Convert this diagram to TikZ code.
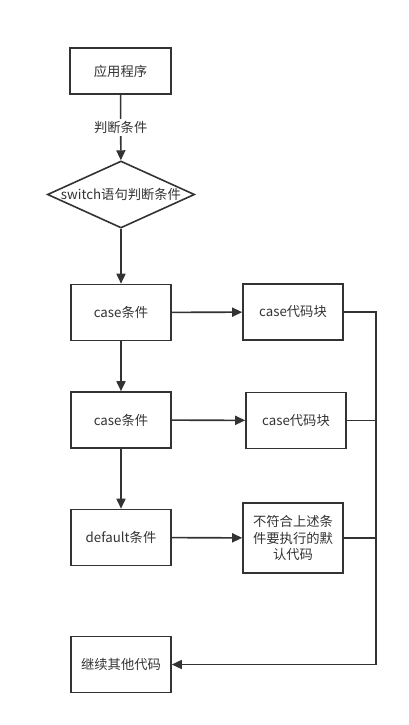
\documentclass[tikz,border=0pt]{standalone}
\usepackage{fontspec}
\setmainfont{Noto Sans CJK SC}
\usetikzlibrary{arrows.meta,shapes.geometric}
\definecolor{ink}{HTML}{333333}
\begin{document}
\begin{tikzpicture}[x=1pt,y=-1pt,
  every node/.style={font=\fontsize{13.3}{16.5}\selectfont, text=ink},
  box/.style={draw=ink, line width=1.6pt, minimum width=100pt, minimum height=56pt, inner sep=2pt, align=center},
  dia/.style={draw=ink, line width=1.6pt, diamond, aspect=2.2, inner sep=0pt, minimum width=146pt, minimum height=67pt},
  conn/.style={draw=ink, line width=1.6pt, -{Triangle[length=10pt,width=9pt]}},
  plain/.style={draw=ink, line width=1.6pt}]
\useasboundingbox (0,0) rectangle (408,725);
\node[box, minimum height=46pt, minimum width=101pt] (app) at (120.5,71) {应用程序};
\node[dia] (sw) at (121,194.5) {switch语句判断条件};
\node[box] (c1) at (121,312.5) {case条件};
\node[box] (b1) at (293,312) {case代码块};
\node[box] (c2) at (121,420) {case条件};
\node[box] (b2) at (296,420.5) {case代码块};
\node[box] (d) at (121,537.5) {default条件};
\node[box, minimum height=70pt] (db) at (293,538) {不符合上述条\\件要执行的默\\认代码};
\node[box] (cont) at (121,664.5) {继续其他代码};
\coordinate (r1) at (376,312);
\coordinate (rb) at (376,664.5);
\draw[conn] (app) -- node[fill=white, inner sep=2pt] {判断条件} (sw);
\draw[conn] (sw) -- (c1);
\draw[conn] (c1) -- (c2);
\draw[conn] (c2) -- (d);
\draw[conn] (c1) -- (b1);
\draw[conn] (c2) -- (b2);
\draw[conn] (d) -- (db);
\draw[plain] (b1.east) -- (r1) -- (rb);
\draw[plain] (b2.east) -- (b2.east -| r1);
\draw[plain] (db.east) -- (db.east -| r1);
\draw[conn] (rb) -- (cont.east);
\end{tikzpicture}
\end{document}
